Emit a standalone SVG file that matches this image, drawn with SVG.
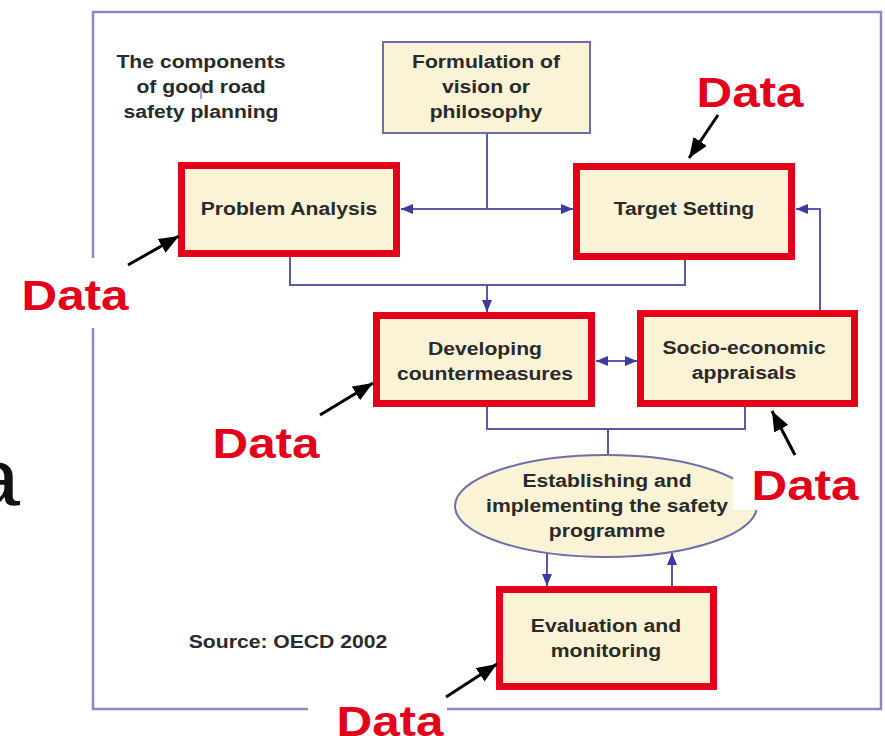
<svg xmlns="http://www.w3.org/2000/svg" width="885" height="736" viewBox="0 0 885 736">
  <style>
    .lbl { font-family: "Liberation Sans", Arial, sans-serif; font-weight: bold; font-size: 18px; fill: #2a2a2a; text-anchor: middle; }
    .data { font-family: "Liberation Sans", Arial, sans-serif; font-weight: bold; font-size: 42px; fill: #e2001a; text-anchor: middle; }
    .box { fill: #fbf3d6; stroke: #e2001a; stroke-width: 7; }
    .plain { fill: #fbf3d6; stroke: #6e6ea8; stroke-width: 2; }
    .conn { fill: none; stroke: #5a5aaa; stroke-width: 2; }
    .ptr { stroke: #000; stroke-width: 3; fill: none; }
    .frame { fill: none; stroke: #8a8abb; stroke-width: 2.5; }
    .mask { fill: #fff; }
  </style>
  <defs>
    <marker id="ah" viewBox="0 0 12 10" refX="12" refY="5" markerWidth="13" markerHeight="10" markerUnits="userSpaceOnUse" orient="auto">
      <path d="M0,0 L12,5 L0,10 z" fill="#3a3aa0"/>
    </marker>
    <marker id="ptrhead" viewBox="0 0 20 16" refX="20" refY="8" markerWidth="20" markerHeight="16" markerUnits="userSpaceOnUse" orient="auto">
      <path d="M0,0 L20,8 L0,16 z" fill="#000"/>
    </marker>
  </defs>

  <rect width="885" height="736" fill="#fff"/>

  <!-- cropped slide letter on the far left -->
  <text x="0" y="0" transform="translate(20 505) scale(1.175 1)" font-family="'Liberation Sans', Arial, sans-serif" font-size="80" fill="#111" text-anchor="end">a</text>

  <!-- outer frame, interrupted where labels sit on it -->
  <path class="frame" d="M93,258 V12 H881 V709 H447 M308,709 H93 V328"/>

  <!-- title and source -->
  <g id="title">
    <text class="lbl" transform="translate(201 68) scale(1.175 1)">The components</text>
    <text class="lbl" transform="translate(201 93) scale(1.175 1)">of good road</text>
    <text class="lbl" transform="translate(201 118) scale(1.175 1)">safety planning</text>
    <line x1="201" y1="88" x2="201" y2="99" stroke="#8a8abb" stroke-width="1.5"/>
  </g>
  <g id="source">
    <text class="lbl" transform="translate(288 648) scale(1.175 1)">Source: OECD 2002</text>
  </g>

  <!-- connectors -->
  <g id="connectors">
    <path class="conn" d="M487,133 V209"/>
    <path class="conn" d="M487,209 H401" marker-end="url(#ah)"/>
    <path class="conn" d="M487,209 H573" marker-end="url(#ah)"/>
    <path class="conn" d="M290,257 V285 H685 V260"/>
    <path class="conn" d="M487,285 V312" marker-end="url(#ah)"/>
    <path class="conn" d="M616,361 H596" marker-end="url(#ah)"/>
    <path class="conn" d="M616,361 H637" marker-end="url(#ah)"/>
    <path class="conn" d="M820,310 V209 H796" marker-end="url(#ah)"/>
    <path class="conn" d="M487,407 V429 H745 V407"/>
    <path class="conn" d="M608,429 V455"/>
    <path class="conn" d="M547,553 V586" marker-end="url(#ah)"/>
    <path class="conn" d="M672,586 V553" marker-end="url(#ah)"/>
  </g>

  <!-- nodes -->
  <g id="formulation">
    <rect class="plain" x="383" y="42" width="207" height="91"/>
    <text class="lbl" transform="translate(486 68) scale(1.175 1)">Formulation of</text>
    <text class="lbl" transform="translate(486 93) scale(1.175 1)">vision or</text>
    <text class="lbl" transform="translate(486 118) scale(1.175 1)">philosophy</text>
  </g>

  <g id="problem-analysis">
    <rect class="box" x="181.5" y="165.5" width="215" height="88"/>
    <text class="lbl" transform="translate(289 215) scale(1.175 1)">Problem Analysis</text>
  </g>

  <g id="target-setting">
    <rect class="box" x="576.5" y="166.5" width="215" height="90"/>
    <text class="lbl" transform="translate(684 215) scale(1.175 1)">Target Setting</text>
  </g>

  <g id="developing">
    <rect class="box" x="376.5" y="315.5" width="215" height="88"/>
    <text class="lbl" transform="translate(485 355) scale(1.175 1)">Developing</text>
    <text class="lbl" transform="translate(485 380) scale(1.175 1)">countermeasures</text>
  </g>

  <g id="socio-economic">
    <rect class="box" x="640.5" y="313.5" width="214" height="90"/>
    <text class="lbl" transform="translate(744 354) scale(1.175 1)">Socio-economic</text>
    <text class="lbl" transform="translate(744 379) scale(1.175 1)">appraisals</text>
  </g>

  <g id="establishing">
    <ellipse cx="606" cy="506" rx="151" ry="51" fill="#fbf3d6" stroke="#6e6ea8" stroke-width="2"/>
    <text class="lbl" transform="translate(607 487) scale(1.175 1)">Establishing and</text>
    <text class="lbl" transform="translate(607 512) scale(1.175 1)">implementing the safety</text>
    <text class="lbl" transform="translate(607 537) scale(1.175 1)">programme</text>
  </g>

  <g id="evaluation">
    <rect class="box" x="499.5" y="589.5" width="214" height="97"/>
    <text class="lbl" transform="translate(606 632) scale(1.175 1)">Evaluation and</text>
    <text class="lbl" transform="translate(606 657) scale(1.175 1)">monitoring</text>
  </g>

  <!-- data inputs with pointer arrows -->
  <g id="data-target">
    <text class="data" transform="translate(750 107) scale(1.175 1)">Data</text>
    <line class="ptr" x1="718" y1="115" x2="689" y2="158" marker-end="url(#ptrhead)"/>
  </g>
  <g id="data-problem">
    <text class="data" transform="translate(75 310) scale(1.175 1)">Data</text>
    <line class="ptr" x1="128" y1="265" x2="179" y2="236" marker-end="url(#ptrhead)"/>
  </g>
  <g id="data-developing">
    <text class="data" transform="translate(266 458) scale(1.175 1)">Data</text>
    <line class="ptr" x1="320" y1="415" x2="373" y2="383" marker-end="url(#ptrhead)"/>
  </g>
  <g id="data-socio">
    <rect class="mask" x="733" y="458" width="135" height="52"/>
    <text class="data" transform="translate(805 500) scale(1.175 1)">Data</text>
    <line class="ptr" x1="795" y1="455" x2="772" y2="411" marker-end="url(#ptrhead)"/>
  </g>
  <g id="data-evaluation">
    <text class="data" transform="translate(390 736) scale(1.175 1)">Data</text>
    <line class="ptr" x1="446" y1="697" x2="497" y2="664" marker-end="url(#ptrhead)"/>
  </g>
</svg>
